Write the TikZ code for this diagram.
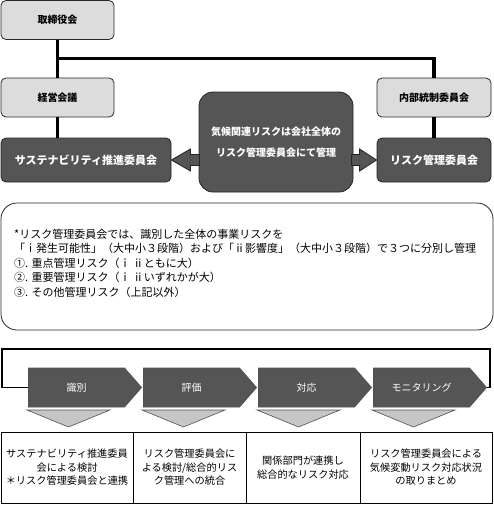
\documentclass[tikz,border=0pt]{standalone}
\usepackage{fontspec}
\setmainfont{Noto Sans CJK JP}
\usepackage{xcolor}
\usepackage{tikz}
\usetikzlibrary{arrows.meta,shapes.symbols}
\definecolor{boxdark}{HTML}{555555}
\definecolor{boxlight}{HTML}{DCDCDC}
\definecolor{boxedge}{HTML}{262626}

\begin{document}
\begin{tikzpicture}[x=1pt,y=-1pt,
  lightbox/.style={draw=boxedge,fill=boxlight,rounded corners=5pt,line width=0.8pt,
    minimum height=39pt,font=\bfseries\fontsize{10}{12}\selectfont},
  darkbox/.style={draw=boxedge,fill=boxdark,rounded corners=5pt,line width=0.8pt,
    minimum height=44pt,text=white,font=\bfseries\fontsize{11}{13}\selectfont},
  trunk/.style={line width=3.5pt,black},
  fat/.style={draw=boxedge,fill=boxdark,line width=0.8pt,line join=miter},
  stage/.style={signal,signal to=east,signal pointer angle=98,draw=boxedge!80,fill=boxdark,
    line width=0.8pt,minimum width=113pt,minimum height=39pt,inner sep=0pt,
    text=white,font=\fontsize{10}{12}\selectfont},
  funnel/.style={draw=boxedge!80,fill=boxlight!90!black,line width=0.6pt},
  cell/.style={draw=black,line width=0.8pt,minimum height=71pt,inner sep=0pt,align=center,
    font=\fontsize{10.2}{13.5}\selectfont},
  cycleline/.style={line width=1.6pt,black}]
\useasboundingbox (0,0) rectangle (494,506);
\node[lightbox,minimum width=113pt] (board) at (57.5,20) {取締役会};
\node[lightbox,minimum width=113pt] (mgmt) at (57.5,97.5) {経営会議};
\node[lightbox,minimum width=114pt] (ctrl) at (434,97.5) {内部統制委員会};
\node[darkbox,minimum width=170pt] (sust) at (86,160) {サステナビリティ推進委員会};
\node[darkbox,minimum width=114pt] (riskc) at (434,160) {リスク管理委員会};
\node[darkbox,rounded corners=14pt,minimum width=154pt,minimum height=100pt,align=center,
  font=\bfseries\fontsize{10}{21}\selectfont] (climate) at (276,142)
  {気候関連リスクは会社全体の\\リスク管理委員会にて管理};
\coordinate (branch) at (57.5,58.5);
\draw[trunk] (board.south) -- (mgmt.north);
\draw[trunk] (mgmt.south) -- (mgmt.south |- sust.north);
\draw[trunk] (branch) -| (ctrl.north);
\draw[trunk] (ctrl.south) -- (riskc.north);
\draw[fat] (sust.east) -- ++(19,-11) -- ++(0,5.5) -- ++(9,0) -- ++(0,11) -- ++(-9,0)
  -- ++(0,5.5) -- cycle;
\draw[fat] (riskc.west) -- ++(-17,-11) -- ++(0,5.5) -- ++(-8,0) -- ++(0,11) -- ++(8,0)
  -- ++(0,5.5) -- cycle;
\node[draw=boxedge,line width=0.8pt,rounded corners=16pt,minimum width=492pt,
  minimum height=127pt] (note) at (247,266.5) {};
\node[anchor=west,align=left,inner sep=0pt,font=\fontsize{11}{14.5}\selectfont] (notetext)
  at (14,263) {*リスク管理委員会では、識別した全体の事業リスクを\\
  「ｉ発生可能性」（大中小３段階）および「ⅱ影響度」（大中小３段階）で３つに分別し管理\\
  ①. 重点管理リスク（ｉ ⅱともに大）\\
  ②. 重要管理リスク（ｉ ⅱいずれかが大）\\
  ③. その他管理リスク（上記以外）};
\foreach \t [count=\i] in {識別,評価,対応,モニタリング}{
  \node[stage] (s\i) at (76.5+115*\i-115,387.5) {\t};
  \draw[funnel] (27+115*\i-115,410) -- (110+115*\i-115,410) -- (68.5+115*\i-115,427) -- cycle;
}
\coordinate (loopr) at (490,349);
\coordinate (loopl) at (2,349);
\draw[cycleline] (s4.east) -| (loopr) -- (loopl) |- (s1.west);
\node[cell,minimum width=132pt] (c1) at (67,467.5)
  {サステナビリティ推進委員\\会による検討\\＊リスク管理委員会と連携};
\node[cell,minimum width=113pt] (c2) at (189.5,467.5)
  {リスク管理委員会に\\よる検討/総合的リス\\ク管理への統合};
\node[cell,minimum width=114pt] (c3) at (303,467.5)
  {関係部門が連携し\\総合的なリスク対応};
\node[cell,minimum width=132pt] (c4) at (426,467.5)
  {リスク管理委員会による\\気候変動リスク対応状況\\の取りまとめ};
\end{tikzpicture}
\end{document}
